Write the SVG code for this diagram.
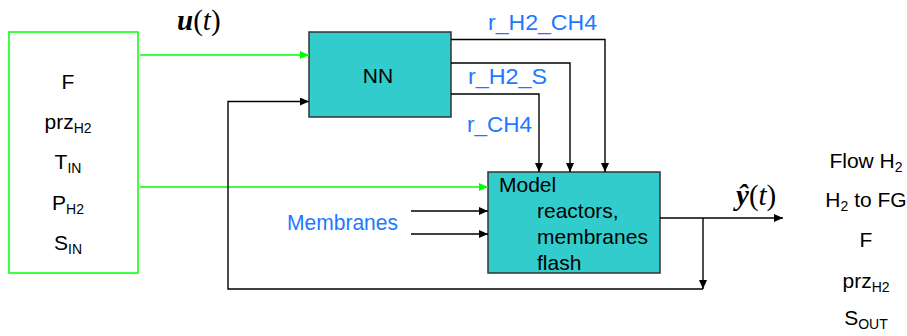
<svg xmlns="http://www.w3.org/2000/svg" width="907" height="336" viewBox="0 0 907 336">
<style>
.lbl{font-family:"Liberation Sans",Arial,sans-serif;font-size:21px;fill:#000}
.blue{font-family:"Liberation Sans",Arial,sans-serif;font-size:22px;fill:#1E78FF}
.mid{text-anchor:middle}
.sub{font-size:14px}
.math{font-family:"Liberation Serif","Times New Roman",serif;font-size:29px;fill:#000}
.box{fill:#33CCCC;stroke:#333;stroke-width:1.5}
.wire{fill:none;stroke:#000;stroke-width:1.4}
.gwire{fill:none;stroke:#00FF00;stroke-width:1.4}
</style>
<defs>
<marker id="ah" markerUnits="userSpaceOnUse" markerWidth="10" markerHeight="9" refX="9" refY="4" orient="auto">
<path d="M0,0 L9,4 L0,8 z" fill="#000"/>
</marker>
<marker id="gah" markerUnits="userSpaceOnUse" markerWidth="10" markerHeight="9" refX="9" refY="4" orient="auto">
<path d="M0,0 L9,4 L0,8 z" fill="#00FF00"/>
</marker>
</defs>
<rect width="907" height="336" fill="#fff"/>

<g id="inputs">
<rect x="9" y="32" width="129" height="241" fill="#fff" stroke="#00FF00" stroke-width="1.5"/>
<text class="lbl mid" x="68" y="89">F</text>
<text class="lbl mid" x="68" y="129">prz<tspan class="sub" dy="4">H2</tspan></text>
<text class="lbl mid" x="68" y="169">T<tspan class="sub" dy="4">IN</tspan></text>
<text class="lbl mid" x="68" y="210">P<tspan class="sub" dy="4">H2</tspan></text>
<text class="lbl mid" x="68" y="250">S<tspan class="sub" dy="4">IN</tspan></text>
</g>

<g id="nn">
<rect class="box" x="309" y="32" width="142" height="85"/>
<text class="lbl mid" x="378" y="83">NN</text>
</g>

<g id="model">
<rect class="box" x="488" y="172" width="172" height="101"/>
<text class="lbl" x="499" y="192">Model</text>
<text class="lbl" x="537" y="218">reactors,</text>
<text class="lbl" x="537" y="244">membranes</text>
<text class="lbl" x="537" y="270">flash</text>
</g>

<g id="outputs">
<text class="lbl mid" x="866" y="168">Flow H<tspan class="sub" dy="4">2</tspan></text>
<text class="lbl mid" x="866" y="207">H<tspan class="sub" dy="4">2</tspan><tspan dy="-4"> to FG</tspan></text>
<text class="lbl mid" x="866" y="247">F</text>
<text class="lbl mid" x="866" y="288">prz<tspan class="sub" dy="4">H2</tspan></text>
<text class="lbl mid" x="866" y="325">S<tspan class="sub" dy="4">OUT</tspan></text>
</g>

<g id="labels">
<text class="math" x="177" y="30"><tspan font-weight="bold" font-style="italic">u</tspan>(<tspan font-style="italic">t</tspan>)</text>
<text class="math" x="736" y="205"><tspan font-weight="bold" font-style="italic">ŷ</tspan>(<tspan font-style="italic">t</tspan>)</text>
<text class="blue" x="488" y="30" textLength="109" lengthAdjust="spacingAndGlyphs">r_H2_CH4</text>
<text class="blue" x="468" y="84" textLength="79" lengthAdjust="spacingAndGlyphs">r_H2_S</text>
<text class="blue" x="467" y="132" textLength="65" lengthAdjust="spacingAndGlyphs">r_CH4</text>
<text class="blue" x="287" y="230" textLength="111" lengthAdjust="spacingAndGlyphs">Membranes</text>
</g>

<g id="connectors">
<path class="gwire" d="M140,55 H309" marker-end="url(#gah)"/>
<path class="gwire" d="M140,187 H488" marker-end="url(#gah)"/>
<path class="wire" d="M451,39.5 H605 V172" marker-end="url(#ah)"/>
<path class="wire" d="M451,63 H570 V172" marker-end="url(#ah)"/>
<path class="wire" d="M451,94 H539 V172" marker-end="url(#ah)"/>
<path class="wire" d="M411,211 H488" marker-end="url(#ah)"/>
<path class="wire" d="M411,234 H488" marker-end="url(#ah)"/>
<path class="wire" d="M660,218 H783" marker-end="url(#ah)"/>
<path class="wire" d="M703,218 V289" marker-end="url(#ah)"/>
<path class="wire" d="M703,289 H228 V101.5 H309" marker-end="url(#ah)"/>
</g>
</svg>
